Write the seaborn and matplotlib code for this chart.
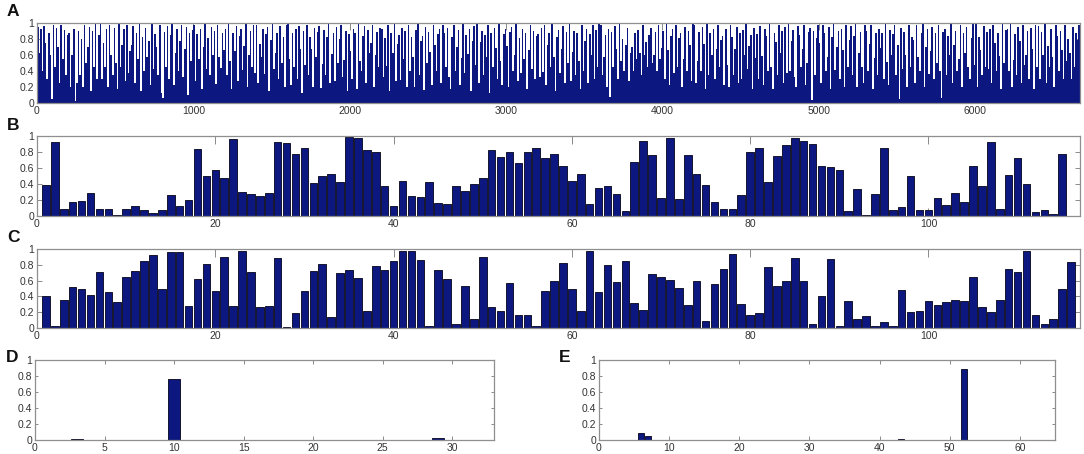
import numpy as np
import matplotlib
matplotlib.use("Agg")
import matplotlib.pyplot as plt
import seaborn as sns

# ---------------- data ----------------
# Panel A: bar heights (in %) read in 10-unit steps along 0..6670
a_heights_pct = [
    95,62,93,40,96,75,30,88,60,5,97,45,94,70,25,98,55,91,35,85,
    88,20,60,92,2,25,90,35,80,20,98,50,70,95,15,90,45,99,30,85,
    99,30,75,45,92,20,97,60,35,94,50,18,99,45,72,93,28,97,38,65,
    72,96,25,88,55,99,15,83,40,94,58,78,22,99,42,86,70,35,97,12,
    6,89,45,96,30,85,99,22,62,92,40,77,98,33,67,95,10,88,52,91,
    97,28,86,55,93,18,70,99,42,81,35,95,60,90,24,98,58,44,87,66,
    92,35,99,53,18,88,65,96,28,84,93,41,71,99,20,60,90,45,97,38,
    98,25,74,57,92,36,86,95,15,79,99,42,62,88,30,96,50,83,20,97,
    99,55,22,87,45,93,30,96,68,12,90,47,98,35,82,67,20,94,58,89,
    96,19,49,91,35,83,99,25,61,88,27,95,50,80,97,32,54,90,15,86,
    65,30,92,87,18,99,52,40,84,96,25,91,62,75,98,20,60,89,45,94,
    93,32,81,46,97,15,88,62,99,28,74,85,29,94,55,90,20,98,40,83,
    58,20,91,99,35,77,84,16,95,50,89,64,22,98,72,40,86,93,25,97,
    88,45,94,33,18,82,97,40,70,91,22,56,99,38,85,61,93,15,78,96,
    47,99,25,76,90,35,85,58,97,12,88,45,94,69,30,99,53,22,86,92,
    71,20,89,95,40,60,99,28,81,37,93,55,87,18,66,98,42,90,30,84,
    86,32,94,39,97,22,73,88,45,99,57,15,83,91,38,68,96,25,89,50,
    99,28,64,90,35,87,52,18,98,40,78,93,25,86,60,97,30,91,45,99,
    97,35,58,85,20,92,8,89,45,96,67,30,99,52,80,40,73,94,28,62,
    70,40,87,55,91,63,35,98,60,76,45,85,94,50,60,89,40,97,55,69,
    90,30,99,66,22,84,93,38,97,45,81,88,20,55,95,40,90,72,28,99,
    98,25,52,89,40,95,74,18,99,35,87,60,92,30,68,97,45,79,84,22,
    93,48,20,98,82,35,67,95,25,88,30,91,60,99,42,71,85,18,94,56,
    86,30,96,59,22,92,84,40,99,45,18,88,76,35,97,63,90,25,95,37,
    99,40,78,91,33,20,96,85,45,68,98,22,50,89,94,4,90,35,81,97,
    75,25,98,88,40,57,95,18,83,99,41,70,90,30,93,66,20,97,45,79,
    96,35,84,99,20,62,89,45,25,97,90,40,74,98,18,56,87,35,93,69,
    88,30,99,51,22,91,60,86,97,35,73,5,94,42,89,60,20,98,45,82,
    79,25,97,58,40,88,99,20,70,92,36,65,95,30,87,50,98,40,6,89,
    93,35,84,60,99,25,72,90,40,55,97,20,88,63,95,45,30,81,99,47,
    99,20,83,66,35,96,45,89,42,93,25,98,75,40,87,59,18,99,50,91,
    92,40,99,20,54,86,35,95,78,25,98,48,60,90,30,94,68,18,97,45,
    96,30,89,60,99,25,71,45,92,58,20,97,84,40,90,66,30,98,52,80,
    63,30,95,45,88,79,97,
]
a_step = 10

b_values = [
    0.39,0.92,0.09,0.17,0.19,0.29,0.09,0.09,0.01,0.09,
    0.12,0.075,0.04,0.08,0.26,0.13,0.20,0.84,0.50,0.58,
    0.48,0.96,0.30,0.28,0.25,0.29,0.93,0.91,0.77,0.85,
    0.41,0.50,0.53,0.43,0.99,0.97,0.83,0.80,0.37,0.125,
    0.44,0.25,0.24,0.42,0.16,0.15,0.38,0.31,0.40,0.47,
    0.83,0.74,0.80,0.66,0.80,0.85,0.73,0.77,0.63,0.44,
    0.52,0.15,0.35,0.37,0.28,0.06,0.67,0.94,0.76,0.22,
    0.98,0.21,0.76,0.52,0.39,0.18,0.09,0.09,0.26,0.80,
    0.85,0.43,0.75,0.89,0.98,0.94,0.90,0.63,0.61,0.58,
    0.06,0.34,0.01,0.27,0.85,0.07,0.11,0.50,0.08,0.08,
    0.22,0.14,0.29,0.17,0.62,0.38,0.93,0.09,0.51,0.72,
    0.40,0.055,0.07,0.02,0.78,0.0,
]

c_values = [
    0.40,0.02,0.36,0.52,0.50,0.42,0.71,0.45,0.33,0.65,
    0.72,0.85,0.92,0.49,0.96,0.96,0.28,0.62,0.81,0.47,
    0.90,0.28,0.97,0.71,0.26,0.28,0.88,0.01,0.19,0.47,
    0.72,0.81,0.14,0.70,0.73,0.63,0.22,0.78,0.74,0.85,
    0.97,0.97,0.86,0.03,0.74,0.62,0.05,0.53,0.11,0.90,
    0.26,0.21,0.57,0.17,0.17,0.03,0.47,0.59,0.82,0.49,
    0.21,0.97,0.46,0.80,0.58,0.85,0.32,0.23,0.68,0.64,
    0.61,0.51,0.29,0.59,0.09,0.56,0.75,0.94,0.31,0.16,
    0.19,0.77,0.53,0.60,0.89,0.60,0.05,0.41,0.87,0.02,
    0.34,0.11,0.15,0.03,0.07,0.03,0.48,0.20,0.22,0.34,
    0.29,0.33,0.35,0.34,0.64,0.27,0.20,0.36,0.75,0.71,
    0.97,0.16,0.05,0.12,0.50,0.84,
]

d_values = [0.0] * 32
d_values[2] = 0.01
d_values[9] = 0.76
d_values[28] = 0.025

e_values = [0.0] * 64
e_values[5] = 0.09
e_values[6] = 0.05
e_values[42] = 0.01
e_values[46] = 0.005
e_values[51] = 0.89
e_values[54] = 0.005

yticks = [0, 0.2, 0.4, 0.6, 0.8, 1]
ytick_labels = ["0", "0.2", "0.4", "0.6", "0.8", "1"]

# ---------------- style ----------------
sns.set_theme(style="white")
plt.rcParams["font.family"] = ["Liberation Sans", "DejaVu Sans"]

BAR = "#0c1880"
EDGE = "#151530"
W, H = 1084, 454

fig = plt.figure(figsize=(W / 100, H / 100), dpi=100)


def add_ax(l, t, r, b):
    return fig.add_axes([l / W, 1 - b / H, (r - l) / W, (b - t) / H])


axA = add_ax(37, 23, 1080, 103)
axB = add_ax(37, 136, 1080, 216)
axC = add_ax(37, 249, 1080, 328)
axD = add_ax(35, 360, 494, 440)
axE = add_ax(599, 360, 1055, 440)


def bars(ax, x, y, width, lw, edge):
    sns.barplot(x=x, y=y, native_scale=True, orient="x", color=BAR,
                saturation=1, width=width, edgecolor=edge, linewidth=lw,
                errorbar=None, ax=ax)


def style(ax, xlim, xticks, xlen, ylen):
    ax.set_xlim(*xlim)
    ax.set_ylim(0, 1)
    ax.set_xticks(xticks)
    ax.set_xticklabels([str(t) for t in xticks])
    ax.set_yticks(yticks)
    ax.set_yticklabels(ytick_labels)
    ax.tick_params(axis="x", direction="in", length=xlen, width=0.7,
                   color="#8a8a8a", labelcolor="#333333", labelsize=7.5,
                   top=True, bottom=True, pad=2)
    ax.tick_params(axis="y", direction="in", length=ylen, width=0.7,
                   color="#8a8a8a", labelcolor="#333333", labelsize=7.5,
                   left=True, right=True, pad=2)
    for s in ax.spines.values():
        s.set_visible(True)
        s.set_color("#8f8f8f")
        s.set_linewidth(0.9)
    ax.set_xlabel("")
    ax.set_ylabel("")


a_x = np.arange(len(a_heights_pct)) * a_step + a_step / 2
a_y = np.array(a_heights_pct) / 100.0
bars(axA, a_x, a_y, 1.0, 0, "none")
style(axA, (0, len(a_heights_pct) * a_step), list(range(0, 7000, 1000)), 5, 3)

bars(axB, np.arange(1, len(b_values) + 1), b_values, 0.85, 0.7, EDGE)
style(axB, (0, 117), list(range(0, 120, 20)), 5.5, 3.5)

bars(axC, np.arange(1, len(c_values) + 1), c_values, 0.85, 0.7, EDGE)
style(axC, (0, 117), list(range(0, 120, 20)), 5.5, 3.5)

bars(axD, np.arange(1, len(d_values) + 1), d_values, 0.85, 0.7, EDGE)
style(axD, (0, 33), list(range(0, 35, 5)), 3, 2.5)

bars(axE, np.arange(1, len(e_values) + 1), e_values, 0.85, 0.7, EDGE)
style(axE, (0, 65), list(range(0, 70, 10)), 3, 2.5)

for lab, (px, py) in {"A": (13, 11), "B": (13, 126), "C": (13, 238),
                      "D": (12, 357), "E": (565, 357)}.items():
    fig.text(px / W, 1 - py / H, lab, ha="center", va="center",
             fontsize=12.5, fontweight="bold", color="#111111")

fig.savefig("out.png", dpi=100)
